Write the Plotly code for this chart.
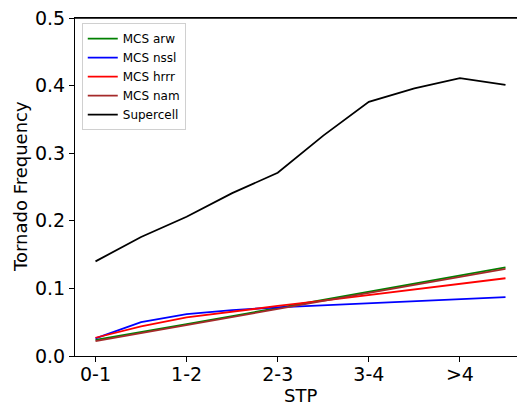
import plotly.graph_objects as go

x_pos = [0, 0.5, 1, 1.5, 2, 2.5, 3, 3.5, 4, 4.5]
tick_vals = [0, 1, 2, 3, 4]
tick_labels = ["0-1", "1-2", "2-3", "3-4", ">4"]

mcs_arw = [0.024, 0.035, 0.047, 0.059, 0.071, 0.083, 0.095, 0.107, 0.119, 0.131]
mcs_nssl = [0.026, 0.050, 0.062, 0.068, 0.072, 0.075, 0.078, 0.081, 0.084, 0.087]
mcs_hrrr = [0.027, 0.044, 0.057, 0.066, 0.074, 0.082, 0.090, 0.098, 0.107, 0.115]
mcs_nam = [0.022, 0.034, 0.046, 0.058, 0.070, 0.082, 0.093, 0.105, 0.117, 0.129]
supercell = [0.140, 0.176, 0.206, 0.241, 0.271, 0.326, 0.376, 0.396, 0.411, 0.401]

series = [
    ("MCS arw", mcs_arw, "#008000"),
    ("MCS nssl", mcs_nssl, "#0000ff"),
    ("MCS hrrr", mcs_hrrr, "#ff0000"),
    ("MCS nam", mcs_nam, "#a52a2a"),
    ("Supercell", supercell, "#000000"),
]

fig = go.Figure()
for name, vals, color in series:
    fig.add_trace(go.Scatter(x=x_pos, y=vals, mode="lines", name=name,
                             line=dict(color=color, width=1.8)))

font = "DejaVu Sans"
# page body has an 8px default margin; margins compensate for it
fig.update_layout(
    width=525, height=406,
    margin=dict(l=67, r=7, t=10, b=58, autoexpand=False),
    paper_bgcolor="white", plot_bgcolor="white",
    font=dict(family=font, color="black", size=18),
    showlegend=True,
    legend=dict(x=0.015, y=0.985, xanchor="left", yanchor="top",
                bgcolor="white", bordercolor="#d0d0d0", borderwidth=1,
                font=dict(size=12, family=font), tracegroupgap=0),
    annotations=[
        dict(text="STP", xref="paper", yref="paper", x=0.5, y=0,
             xanchor="center", yanchor="middle", yshift=-39, showarrow=False,
             font=dict(size=18, family=font)),
        dict(text="Tornado Frequency", xref="paper", yref="paper", x=0, y=0.5,
             xanchor="center", yanchor="middle", xshift=-55, textangle=-90,
             showarrow=False, font=dict(size=18, family=font)),
    ],
    shapes=[
        dict(type="line", xref="paper", yref="paper", x0=0, x1=1, y0=1, y1=1,
             line=dict(color="black", width=1.5), layer="above"),
    ],
)
fig.update_xaxes(
    range=[-0.225, 4.725], tickvals=tick_vals, ticktext=tick_labels,
    showline=True, linecolor="black", linewidth=1.2, mirror=True,
    ticks="outside", ticklen=5, tickcolor="black", showgrid=False, zeroline=False,
    tickfont=dict(size=19, family=font), ticklabelstandoff=-4, automargin=False,
)
fig.update_yaxes(
    range=[0, 0.5], tickvals=[0, 0.1, 0.2, 0.3, 0.4, 0.5], tickformat=".1f",
    showline=True, linecolor="black", linewidth=1.2, mirror=False,
    ticks="outside", ticklen=5, tickcolor="black", showgrid=False, zeroline=False,
    tickfont=dict(size=19, family=font), ticklabeloverflow="allow", automargin=False,
)
fig.write_html("out.html")
